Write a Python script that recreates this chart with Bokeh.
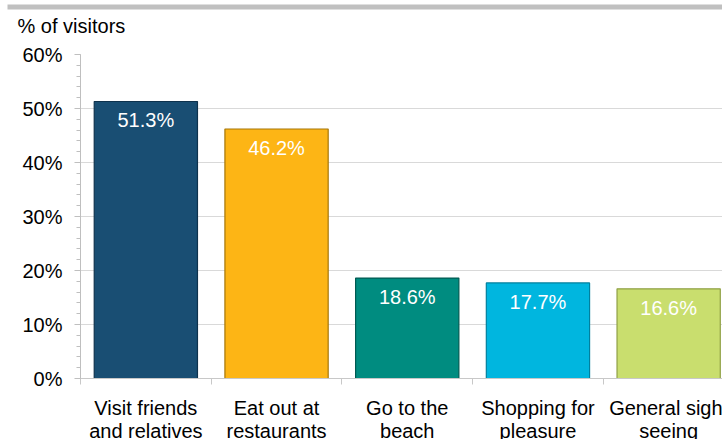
import numpy as np
from bokeh.plotting import figure
from bokeh.layouts import column
from bokeh.models import (Range1d, FixedTicker, SingleIntervalTicker, PrintfTickFormatter,
                          ColumnDataSource)
from bokeh.core.properties import value
from bokeh.embed import file_html
from bokeh.resources import INLINE

# ---- data ----
categories = ["Visit friends\nand relatives", "Eat out at\nrestaurants", "Go to the\nbeach",
              "Shopping for\npleasure", "General sight\nseeing"]
values = [51.3, 46.2, 18.6, 17.7, 16.6]
value_labels = ["51.3%", "46.2%", "18.6%", "17.7%", "16.6%"]
bar_colors = ["#194E73", "#FDB515", "#008C80", "#00B6DF", "#C9DE6E"]
edge_colors = ["#0E324D", "#A57608", "#005A52", "#00809E", "#8FA044"]
y_label = "% of visitors"
y_max = 60

FONT = "Liberation Sans"
FS = "20px"
xs = np.arange(len(categories)) + 0.5
line1 = [c.split("\n")[0] for c in categories]
line2 = [c.split("\n")[1] for c in categories]


def bare(fig):
    fig.outline_line_color = None
    fig.xgrid.visible = False
    fig.ygrid.visible = False
    fig.background_fill_color = "white"
    fig.border_fill_color = "white"


# ---- header strip: grey rule + axis caption ----
head = figure(width=722, height=40, output_backend="svg", toolbar_location=None,
              x_range=Range1d(0, 722), y_range=Range1d(40, 0),
              x_axis_location=None, y_axis_location=None,
              min_border_left=0, min_border_right=0,
              min_border_top=0, min_border_bottom=0)
head.frame_align = False
bare(head)
head.quad(left=7, right=722, top=4, bottom=9, fill_color="#C0C0C0", line_color=None)
head.text(x=[17], y=[25], text=[y_label], text_font=value(FONT), text_font_size=FS,
          text_baseline="middle", text_align="left", text_color="black")

# ---- main chart ----
src = ColumnDataSource(dict(x=xs, top=values, lab=value_labels,
                            fill=bar_colors, edge=edge_colors))

p = figure(width=722, height=352, output_backend="svg", toolbar_location=None,
           x_range=Range1d(0, 642 / 130.7), y_range=Range1d(0, y_max),
           min_border_left=80, min_border_right=0, min_border_top=14,
           min_border_bottom=14)
p.outline_line_color = None
p.background_fill_color = "white"
p.border_fill_color = "white"

p.vbar(x="x", top="top", width=0.79, bottom=0, source=src,
       fill_color="fill", line_color="edge", line_width=1.2)
p.text(x="x", y="top", text="lab", source=src, text_color="white",
       text_font=value(FONT), text_font_size=FS, text_align="center",
       text_baseline="top", y_offset=8)

# y axis
yax = p.yaxis[0]
yax.ticker = SingleIntervalTicker(interval=10, num_minor_ticks=5)
yax.formatter = PrintfTickFormatter(format="%d%%")
yax.major_label_text_font = FONT
yax.major_label_text_font_size = FS
yax.major_label_text_color = "black"
yax.axis_line_color = "#BFBFBF"
yax.major_tick_line_color = "#BFBFBF"
yax.minor_tick_line_color = "#BFBFBF"
yax.major_tick_out = 6
yax.major_tick_in = 0
yax.minor_tick_out = 4
yax.minor_tick_in = 0
yax.major_label_standoff = 12

# x axis: line + category boundary ticks (labels drawn in the footer strip)
xax = p.xaxis[0]
xax.ticker = FixedTicker(ticks=[], minor_ticks=list(np.arange(len(categories))))
xax.major_label_standoff = 0
xax.axis_line_color = "#C8C8C8"
xax.major_tick_out = 0
xax.major_tick_in = 0
xax.minor_tick_line_color = "#C8C8C8"
xax.minor_tick_out = 6
xax.minor_tick_in = 0

p.xgrid.grid_line_color = None
p.ygrid.grid_line_color = "#D9D9D9"
p.ygrid.ticker = SingleIntervalTicker(interval=10)

# ---- footer strip: two-line category labels on the shared x scale ----
foot = figure(width=722, height=47, output_backend="svg", toolbar_location=None,
              x_range=p.x_range, y_range=Range1d(47, 0),
              x_axis_location=None, y_axis_location=None,
              min_border_left=80, min_border_right=0,
              min_border_top=0, min_border_bottom=0)
bare(foot)
foot.text(x=xs, y=[15] * len(xs), text=line1, text_font=value(FONT), text_font_size=FS,
          text_baseline="middle", text_align="center", text_color="black")
foot.text(x=xs, y=[38] * len(xs), text=line2, text_font=value(FONT), text_font_size=FS,
          text_baseline="middle", text_align="center", text_color="black")

layout = column(head, p, foot, spacing=0)
open("out.html", "w").write(file_html(layout, INLINE))
